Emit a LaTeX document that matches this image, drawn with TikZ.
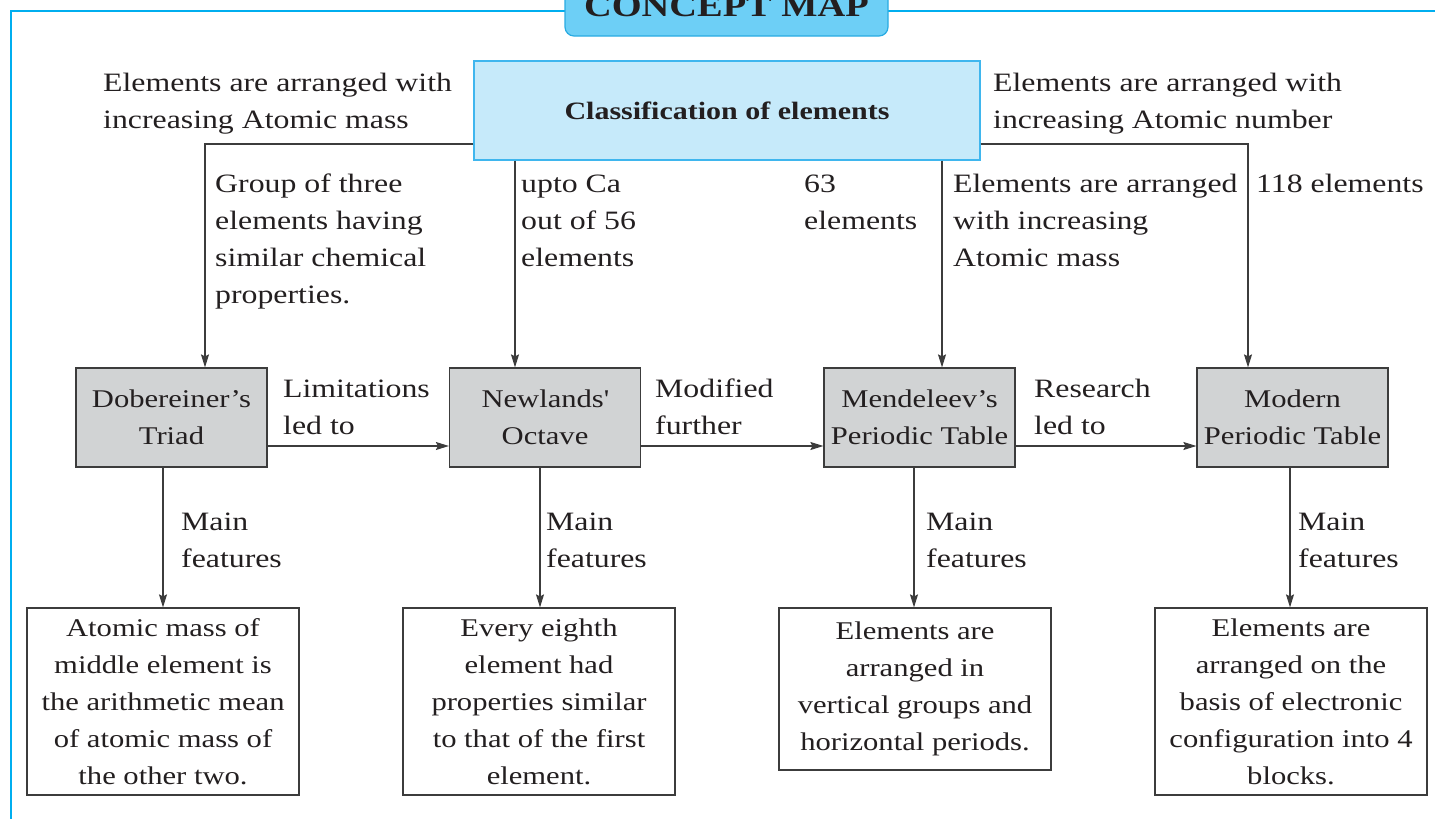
\documentclass[tikz,border=0pt]{standalone}
\usepackage{fontspec}
\setmainfont{Liberation Serif}[FakeStretch=1.2]
\usetikzlibrary{arrows.meta}
\definecolor{frameblue}{HTML}{00AEEF}
\definecolor{titlefill}{HTML}{6DCFF6}
\definecolor{titledraw}{HTML}{29ABE2}
\definecolor{clsfill}{HTML}{C6EAFA}
\definecolor{clsdraw}{HTML}{3FB6EE}
\definecolor{grayfill}{HTML}{D1D3D4}
\definecolor{ink}{HTML}{231F20}
\definecolor{linegray}{HTML}{3C3C3C}
\newcommand\lns[1]{\vtop{\baselineskip=37pt\halign{##\hfil\cr#1\crcr}}}
\tikzset{
  every node/.style={text=ink, font=\fontsize{26.5}{37}\selectfont},
  lbl/.style={anchor=base west, inner sep=0pt},
  titlebox/.style={fill=titlefill, draw=titledraw, line width=1.2pt, rounded corners=9pt,
    minimum width=323pt, minimum height=60pt, inner sep=0pt, font=\fontsize{32}{36}\selectfont\bfseries},
  clsbox/.style={fill=clsfill, draw=clsdraw, line width=1.2pt, minimum width=506pt, minimum height=99pt,
    inner sep=0pt, font=\fontsize{25}{28}\selectfont\bfseries},
  graybox/.style={fill=grayfill, draw=linegray, line width=1.2pt, minimum width=191pt, minimum height=99pt,
    inner sep=0pt, align=center, font=\fontsize{25.5}{37}\selectfont},
  featbox/.style={fill=white, draw=linegray, line width=1.2pt, minimum width=272pt, minimum height=187pt,
    inner sep=0pt, align=center, font=\fontsize{25.5}{37}\selectfont},
  arr/.style={draw=linegray, line width=1.2pt, -{Stealth[length=13pt,width=8pt,inset=2pt]}}
}
\begin{document}
\begin{tikzpicture}[x=1pt,y=-1pt]
\useasboundingbox (0,0) rectangle (1435,819);
% frame
\coordinate (fl) at (11,819);
\coordinate (fc) at (11,11);
\coordinate (fr) at (1440,11);
\draw[frameblue, line width=2pt] (fl) -- (fc) -- (fr);
% title
\node[titlebox] (title) at (726.5,6) {CONCEPT MAP};
% classification
\node[clsbox] (cls) at (727,110.5) {Classification of elements};
% gray boxes
\node[graybox] (dob) at (171.5,417.5) {Dobereiner’s\\Triad};
\node[graybox] (new) at (545,417.5) {Newlands\textquotesingle\\Octave};
\node[graybox] (men) at (919.5,417.5) {Mendeleev’s\\Periodic Table};
\node[graybox] (mod) at (1292.5,417.5) {Modern\\Periodic Table};
% feature boxes
\node[featbox] (fa) at (163,701.5) {Atomic mass of\\middle element is\\the arithmetic mean\\of atomic mass of\\the other two.};
\node[featbox] (fb) at (539,701.5) {Every eighth\\element had\\properties similar\\to that of the first\\element.};
\node[featbox, minimum height=162pt] (fc3) at (915,689) {Elements are\\arranged in\\vertical groups and\\horizontal periods.};
\node[featbox] (fd) at (1291,701.5) {Elements are\\arranged on the\\basis of electronic\\configuration into 4\\blocks.};
% top connectors
\coordinate (dobin) at ([xshift=33.5pt]dob.north);
\coordinate (newin) at ([xshift=-30pt]new.north);
\coordinate (menin) at ([xshift=22.5pt]men.north);
\coordinate (modin) at ([xshift=-44.5pt]mod.north);
\draw[arr] ([yshift=-33.5pt]cls.west) -| (dobin);
\draw[arr] (newin |- cls.south) -- (newin);
\draw[arr] (menin |- cls.south) -- (menin);
\draw[arr] ([yshift=-33.5pt]cls.east) -| (modin);
% horizontal arrows
\draw[arr] ([yshift=-28.5pt]dob.east) -- ([yshift=-28.5pt]new.west);
\draw[arr] ([yshift=-28.5pt]new.east) -- ([yshift=-28.5pt]men.west);
\draw[arr] ([yshift=-28.5pt]men.east) -- ([yshift=-28.5pt]mod.west);
% down arrows
\draw[arr] (fa.north |- dob.south) -- (fa.north);
\draw[arr] ([xshift=1pt]fb.north |- new.south) -- ([xshift=1pt]fb.north);
\draw[arr] ([xshift=-1pt]fc3.north |- men.south) -- ([xshift=-1pt]fc3.north);
\draw[arr] ([xshift=-1pt]fd.north |- mod.south) -- ([xshift=-1pt]fd.north);
% labels
\node[lbl] (lt) at (103,91) {\lns{Elements are arranged with\cr increasing Atomic mass}};
\node[lbl] (rt) at (993,91) {\lns{Elements are arranged with\cr increasing Atomic number}};
\node[lbl] (m1) at (215,192) {\lns{Group of three\cr elements having\cr similar chemical\cr properties.}};
\node[lbl] (m2) at (521,192) {\lns{upto Ca\cr out of 56\cr elements}};
\node[lbl] (m3) at (804,192) {\lns{63\cr elements}};
\node[lbl] (m4) at (953,192) {\lns{Elements are arranged\cr with increasing\cr Atomic mass}};
\node[lbl] (m5) at (1256,192) {\lns{118 elements}};
\node[lbl] (e1) at (283,397) {\lns{Limitations\cr led to}};
\node[lbl] (e2) at (655,397) {\lns{Modified\cr further}};
\node[lbl] (e3) at (1034,397) {\lns{Research\cr led to}};
\node[lbl] (f1) at (181,530) {\lns{Main\cr features}};
\node[lbl] (f2) at (546,530) {\lns{Main\cr features}};
\node[lbl] (f3) at (926,530) {\lns{Main\cr features}};
\node[lbl] (f4) at (1298,530) {\lns{Main\cr features}};
\end{tikzpicture}
\end{document}
